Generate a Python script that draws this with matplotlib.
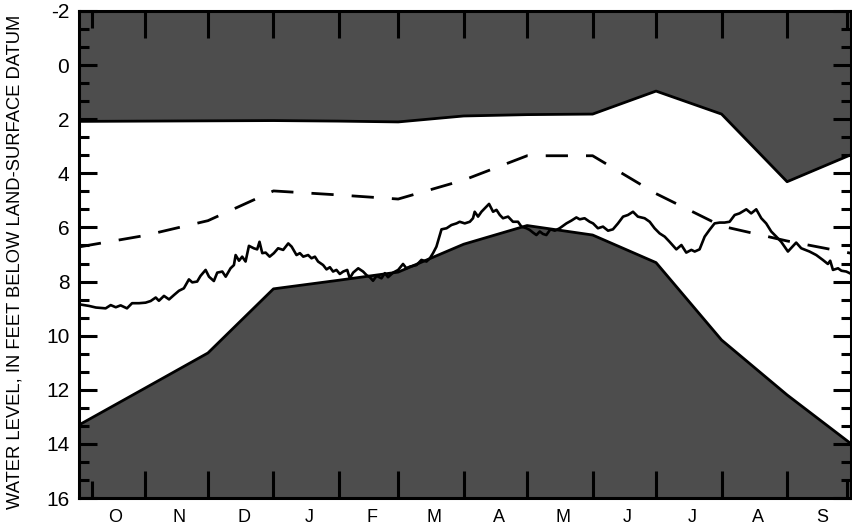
import matplotlib
matplotlib.use('Agg')
import matplotlib.pyplot as plt
import matplotlib.transforms as mtransforms
from matplotlib.ticker import FixedLocator

plt.rcParams['font.family'] = ['Liberation Sans', 'DejaVu Sans']
plt.rcParams['axes.unicode_minus'] = False

# Day-of-water-year (0 = Oct 1) of month boundaries
month_days = [0, 31, 61, 92, 123, 151, 182, 212, 243, 273, 304, 335, 365]
month_labels = ['O', 'N', 'D', 'J', 'F', 'M', 'A', 'M', 'J', 'J', 'A', 'S']

# Monthly envelope values (feet below land surface)
upper = [2.08, 2.07, 2.06, 2.05, 2.07, 2.10, 1.88, 1.83, 1.81, 0.96, 1.81, 4.31, 3.32]
lower = [13.30, 11.95, 10.64, 8.27, 7.95, 7.65, 6.62, 5.93, 6.28, 7.30, 10.16, 12.19, 13.98]
median = [6.72, 6.30, 5.75, 4.65, 4.80, 4.95, 4.25, 3.35, 3.35, 4.75, 5.95, 6.50, 6.95]

# Daily water level for the current year
daily_days = [0, 4.7, 8.0, 12.6, 15.0, 17.4, 19.7, 22.7, 25.1, 28.4, 31.5, 33.9, 36.3, 37.8,
              40.2, 42.6, 44.9, 47.3, 49.6, 52.0, 53.6, 55.9, 57.5, 59.9, 61.5, 63.8, 65.4,
              67.8, 69.4, 71.7, 73.3, 74.1, 75.7, 77.2, 78.8, 80.4, 82.7, 84.3, 85.4, 86.7,
              88.3, 90.2, 92.2, 94.2, 96.6, 99.0, 100.6, 102.9, 104.5, 106.1, 108.4, 110.0,
              111.6, 113.1, 115.5, 117.1, 118.7, 120.2, 121.8, 123.4, 125.0, 126.9, 128.1,
              129.7, 132.1, 134.4, 136.0, 137.6, 139.1, 140.8, 143.1, 144.7, 146.2, 148.6,
              151.0, 153.3, 154.9, 156.5, 159.7, 162.0, 164.4, 166.0, 167.5, 169.1, 171.5,
              173.9, 176.2, 178.6, 180.1, 182.5, 184.9, 186.4, 187.2, 188.8, 190.4, 192.8,
              194.0, 195.9, 197.5, 199.1, 200.6, 203.0, 205.3, 207.7, 209.3, 211.7, 213.2,
              214.8, 216.4, 218.0, 219.5, 221.1, 223.0, 225.1, 227.4, 230.6, 232.9, 235.3,
              236.9, 239.2, 241.6, 243.2, 245.5, 247.9, 250.3, 252.6, 255.0, 257.4, 259.7,
              262.1, 264.4, 267.6, 270.0, 272.3, 274.7, 277.1, 279.4, 282.6, 285.0, 287.3,
              289.7, 291.3, 293.6, 296.0, 298.3, 300.7, 303.1, 305.4, 307.8, 310.2, 312.5,
              315.7, 318.0, 320.4, 322.8, 325.1, 327.5, 329.9, 332.2, 335.4, 339.3, 341.7,
              345.6, 348.8, 351.9, 354.3, 355.4, 356.7, 359.1, 360.7, 363.0, 364.6]
daily_level = [8.84, 8.90, 8.96, 8.99, 8.87, 8.95, 8.88, 8.99, 8.80, 8.80, 8.78, 8.72, 8.59, 8.71,
               8.53, 8.66, 8.50, 8.34, 8.25, 7.92, 8.03, 8.00, 7.79, 7.57, 7.82, 7.98, 7.67,
               7.63, 7.82, 7.51, 7.39, 7.02, 7.23, 7.08, 7.26, 6.68, 6.77, 6.81, 6.53, 6.95,
               6.93, 7.08, 6.95, 6.77, 6.83, 6.59, 6.71, 7.02, 6.95, 7.08, 7.02, 7.14,
               7.08, 7.26, 7.39, 7.55, 7.47, 7.63, 7.57, 7.72, 7.63, 7.57, 7.88,
               7.67, 7.51, 7.63, 7.76, 7.84, 7.97, 7.79, 7.88, 7.69, 7.84, 7.67,
               7.57, 7.35, 7.51, 7.45, 7.39, 7.20, 7.26, 7.14, 6.95, 6.71, 6.07,
               6.03, 5.91, 5.85, 5.79, 5.85, 5.79, 5.66, 5.42, 5.60, 5.42, 5.23,
               5.13, 5.42, 5.35, 5.54, 5.66, 5.60, 5.79, 5.79, 5.97, 6.03, 6.09,
               6.19, 6.28, 6.15, 6.24, 6.28, 6.07, 6.12, 6.03, 5.85, 5.75, 5.63,
               5.70, 5.66, 5.79, 5.85, 6.03, 5.97, 6.12, 6.07, 5.85, 5.60, 5.54,
               5.42, 5.60, 5.66, 5.79, 6.03, 6.22, 6.34, 6.53, 6.81, 6.65, 6.93,
               6.83, 6.89, 6.81, 6.34, 6.09, 5.85, 5.82, 5.82, 5.79, 5.54, 5.48,
               5.33, 5.48, 5.33, 5.66, 5.85, 6.15, 6.34, 6.53, 6.89, 6.56, 6.77,
               6.89, 7.02, 7.20, 7.35, 7.23, 7.57, 7.51, 7.60, 7.63, 7.69]

y_top, y_bottom = -2, 16
fill_color = '#4d4d4d'

fig = plt.figure(figsize=(8.52, 5.27), dpi=100)
ax = fig.add_axes([79 / 852, 29 / 527, (850.5 - 79) / 852, 487 / 527])

ax.fill_between(month_days, y_top, upper, color=fill_color, lw=0, zorder=1)
ax.fill_between(month_days, lower, y_bottom, color=fill_color, lw=0, zorder=1)
ax.plot(month_days, upper, color='black', lw=2.0, zorder=3)
ax.plot(month_days, lower, color='black', lw=2.0, zorder=3)
med_line, = ax.plot(month_days, median, color='black', lw=2.0, zorder=3)
med_line.set_dashes((8, 6.5))
ax.plot(daily_days, daily_level, color='black', lw=1.9, zorder=4)

ax.set_xlim(month_days[0], month_days[-1])
ax.set_ylim(y_bottom, y_top)

for sp in ax.spines.values():
    sp.set_linewidth(2.2)
    sp.set_zorder(5)

# x ticks: month boundaries
ax.xaxis.set_major_locator(FixedLocator(month_days[1:-1]))
ax.xaxis.set_minor_locator(FixedLocator([6, 363.5]))
ax.tick_params(axis='x', which='major', direction='in', length=19.5, width=2.2,
               top=True, bottom=True, labelbottom=False)
ax.tick_params(axis='x', which='minor', direction='in', length=12, width=2.2,
               top=True, bottom=True)

# month labels centered in months
trans = mtransforms.blended_transform_factory(ax.transData, ax.transAxes)
for i, lab in enumerate(month_labels):
    mid = (month_days[i] + month_days[i + 1]) / 2 + 1.5
    ax.text(mid, -0.022, lab, transform=trans, ha='center', va='top', fontsize=13)

# y ticks
major_y = list(range(-2, 17, 2))
minor_y = [-2 + i * 2 / 3 for i in range(28) if i % 3 != 0]
ax.yaxis.set_major_locator(FixedLocator(major_y))
ax.yaxis.set_minor_locator(FixedLocator(minor_y))
ax.set_yticklabels([str(v) for v in major_y])
ax.tick_params(axis='y', which='major', direction='in', length=13, width=2.2,
               left=True, right=True, labelsize=15, pad=7)
ax.tick_params(axis='y', which='minor', direction='in', length=7.5, width=2.2,
               left=True, right=True)

fig.text(15 / 852, 1 - 262 / 527, 'WATER LEVEL, IN FEET BELOW LAND-SURFACE DATUM',
         rotation=90, ha='center', va='center', fontsize=13.2)

fig.savefig('out.png', dpi=100)
